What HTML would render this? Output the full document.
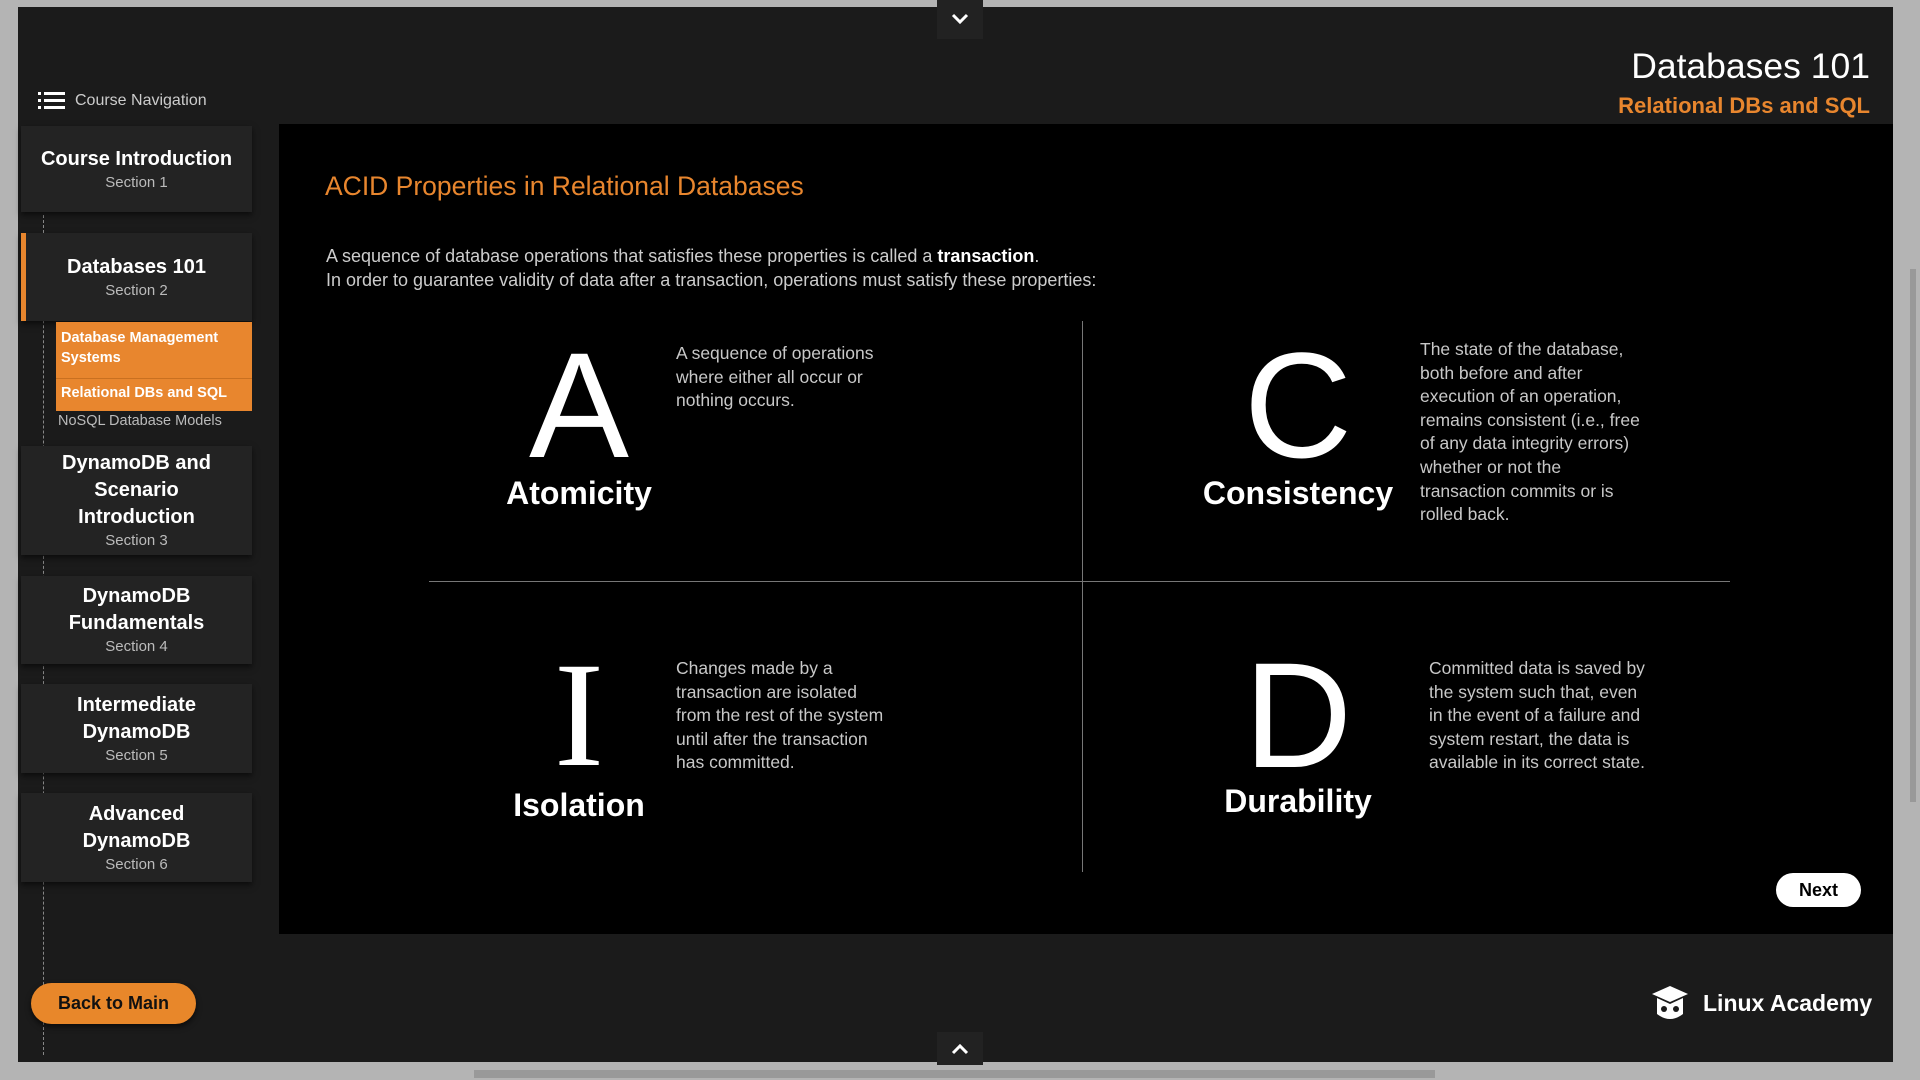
<!DOCTYPE html>
<html><head><meta charset="utf-8"><style>
*{margin:0;padding:0;box-sizing:border-box}
body{width:1920px;height:1080px;background:#b4b4b4;position:relative;overflow:hidden;font-family:"Liberation Sans",sans-serif;color:#fff}
.a{position:absolute}
.frame{left:18px;top:7px;width:1875px;height:1055px;background:#1b1b1b}
.card{position:absolute;left:21px;width:231px;background:#232323;box-shadow:0 3px 6px rgba(0,0,0,.6);text-align:center;display:flex;flex-direction:column;justify-content:center}
.card b{font-size:20px;line-height:27px;display:block}
.card span{font-size:15px;color:#bbb;line-height:20px}
.main{left:279px;top:124px;width:1614px;height:810px;background:#000}
.desc{font-size:17.5px;line-height:23.6px;color:#c8c8c8}
.big{font-size:150px;line-height:1;width:300px;text-align:center;font-weight:normal}
.lbl{font-size:32px;font-weight:bold;width:300px;text-align:center}
</style></head><body>
<div class="a frame"></div>
<div class="a" style="left:474px;top:1070px;width:961px;height:8px;background:#999"></div>
<div class="a" style="left:1910px;top:269px;width:6px;height:533px;background:#999"></div>
<div class="a" style="left:937px;top:0;width:46px;height:39px;background:#222"></div>
<svg class="a" style="left:950px;top:12px" width="20" height="14"><polyline points="3,3 10,10 17,3" fill="none" stroke="#fff" stroke-width="3"/></svg>
<div class="a" style="left:937px;top:1032px;width:46px;height:33px;background:#222"></div>
<svg class="a" style="left:950px;top:1042px" width="20" height="14"><polyline points="3,11 10,4 17,11" fill="none" stroke="#fff" stroke-width="3"/></svg>
<div class="a" style="right:50px;top:46px;font-size:35.5px;color:#fff">Databases 101</div>
<div class="a" style="right:50px;top:93px;font-size:22px;font-weight:bold;color:#e8862e">Relational DBs and SQL</div>
<svg class="a" style="left:38px;top:92px" width="27" height="17"><g fill="#fff"><rect x="0" y="0" width="3" height="3"/><rect x="6" y="0" width="21" height="3"/><rect x="0" y="7" width="3" height="3"/><rect x="6" y="7" width="21" height="3"/><rect x="0" y="14" width="3" height="3"/><rect x="6" y="14" width="21" height="3"/></g></svg>
<div class="a" style="left:75px;top:92px;font-size:16px;color:#ccc">Course Navigation</div>
<div class="a" style="left:43px;top:215px;height:840px;border-left:1px dashed #888"></div>
<div class="card" style="top:126px;height:86px"><b>Course Introduction</b><span>Section 1</span></div>
<div class="card" style="top:233px;height:88px"><b>Databases 101</b><span>Section 2</span></div>
<div class="a" style="left:21px;top:233px;width:5px;height:88px;background:#e8862e"></div>
<div class="a" style="left:56px;top:322px;width:196px;height:89px;background:#e8862e"></div>
<div class="a" style="left:56px;top:378px;width:196px;height:1px;background:#c97020"></div>
<div class="a" style="left:61px;top:328px;font-size:14.5px;font-weight:bold;line-height:20px;color:#fff">Database Management<br>Systems</div>
<div class="a" style="left:61px;top:385px;font-size:14.5px;font-weight:bold;color:#fff">Relational DBs and SQL</div>
<div class="a" style="left:58px;top:413px;font-size:14.5px;color:#bbb">NoSQL Database Models</div>
<div class="card" style="top:446px;height:109px"><b>DynamoDB and<br>Scenario<br>Introduction</b><span>Section 3</span></div>
<div class="card" style="top:576px;height:88px"><b>DynamoDB<br>Fundamentals</b><span>Section 4</span></div>
<div class="card" style="top:684px;height:89px"><b>Intermediate<br>DynamoDB</b><span>Section 5</span></div>
<div class="card" style="top:793px;height:89px"><b>Advanced<br>DynamoDB</b><span>Section 6</span></div>
<div class="a" style="left:31px;top:983px;width:165px;height:41px;border-radius:21px;background:#e8872a;color:#111;font-weight:bold;font-size:18px;text-align:center;line-height:41px;box-shadow:0 3px 6px rgba(0,0,0,.6)">Back to Main</div>
<div class="a main"></div>
<div class="a" style="left:325px;top:171px;font-size:26.5px;color:#e8862e">ACID Properties in Relational Databases</div>
<div class="a" style="left:326px;top:245px;font-size:18px;line-height:23.5px;color:#ccc">A sequence of database operations that satisfies these properties is called a <b style="color:#fff">transaction</b>.<br>In order to guarantee validity of data after a transaction, operations must satisfy these properties:</div>
<div class="a" style="left:1082px;top:321px;width:1px;height:551px;background:#777"></div>
<div class="a" style="left:429px;top:581px;width:1301px;height:1px;background:#777"></div>
<div class="a big" style="left:429px;top:330px">A</div>
<div class="a lbl" style="left:429px;top:475px">Atomicity</div>
<div class="a desc" style="left:676px;top:342px">A sequence of operations<br>where either all occur or<br>nothing occurs.</div>
<div class="a big" style="left:1148px;top:330px">C</div>
<div class="a lbl" style="left:1148px;top:475px">Consistency</div>
<div class="a desc" style="left:1420px;top:338px">The state of the database,<br>both before and after<br>execution of an operation,<br>remains consistent (i.e., free<br>of any data integrity errors)<br>whether or not the<br>transaction commits or is<br>rolled back.</div>
<div class="a big" style="left:429px;top:640px;font-family:'Liberation Serif',serif">I</div>
<div class="a lbl" style="left:429px;top:787px">Isolation</div>
<div class="a desc" style="left:676px;top:657px">Changes made by a<br>transaction are isolated<br>from the rest of the system<br>until after the transaction<br>has committed.</div>
<div class="a big" style="left:1148px;top:640px">D</div>
<div class="a lbl" style="left:1148px;top:783px">Durability</div>
<div class="a desc" style="left:1429px;top:657px">Committed data is saved by<br>the system such that, even<br>in the event of a failure and<br>system restart, the data is<br>available in its correct state.</div>
<div class="a" style="left:1776px;top:873px;width:85px;height:34px;border-radius:17px;background:#fff;color:#000;font-weight:bold;font-size:18px;text-align:center;line-height:34px">Next</div>
<svg class="a" style="left:1650px;top:984px" width="40" height="40"><path d="M20 2 L38 10 L20 18 L2 10 Z" fill="#fff"/><path d="M7 14 L7 30 Q20 40 33 30 L33 14 L20 20 Z" fill="#fff"/><circle cx="14" cy="25" r="3" fill="#1b1b1b"/><circle cx="26" cy="25" r="3" fill="#1b1b1b"/></svg>
<div class="a" style="left:1703px;top:990px;font-size:23px;font-weight:bold;color:#fff">Linux Academy</div>
</body></html>
